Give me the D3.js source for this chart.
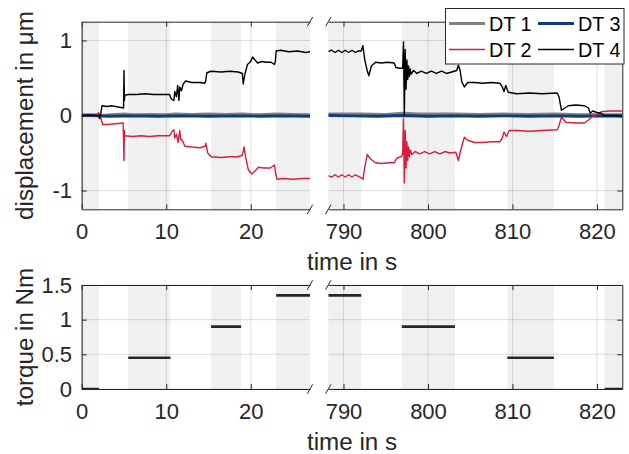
<!DOCTYPE html>
<html>
<head>
<meta charset="utf-8">
<script src="https://d3js.org/d3.v7.min.js"></script>
<style>
  body { margin: 0; background: #fff; }
  svg { display: block; font-family: "Liberation Sans", Arial, sans-serif; }
  .tick text { font-size: 22px; fill: #262626; font-family: "Liberation Sans", Arial, sans-serif; }
  .domain, .tick line { stroke: #262626; }
  .label { font-size: 24.2px; fill: #262626; }
  .legend text { font-size: 19.8px; fill: #000; }
</style>
</head>
<body>
<svg width="629" height="454"></svg>
<script>
// ---- data (time in s, value) ----
var xTicksLeft = [0, 10, 20];
var xTicksRight = [790, 800, 810, 820];
var yTicksDisp = [-1, 0, 1];
var yTicksTorque = [0, 0.5, 1, 1.5];

// grey bands (start, end)
var shadeLeft = [[0, 2.05], [5.5, 10.5], [15.3, 18.85], [23, 27]];
var shadeRight = [[788.2, 792.1], [796.9, 803.2], [809.4, 814.9], [820.9, 823]];

// torque steps (start, end, value)
var torqueLeft = [[0, 2.05, 0], [5.5, 10.5, 0.45], [15.3, 18.85, 0.9], [23, 27, 1.35]];
var torqueRight = [[788.2, 792.1, 1.35], [796.9, 803.2, 0.9], [809.4, 814.9, 0.45], [820.9, 823, 0]];

var dt1Left = [[0,0.01],[2,0.01],[2.2,0],[4,0.015],[5,0.02],[6,0.01],[8,0.015],[10,0.01],[11,0.02],
  [13,0.015],[15,0.02],[17,0.015],[19,0.02],[21,0.01],[23,0.02],[25,0.015],[27,0.01]];
var dt3Left = [[0,0],[2,-0.005],[3,-0.01],[6,-0.005],[9,-0.01],[12,-0.005],[15,-0.01],[18,-0.005],
  [21,-0.01],[24,-0.005],[27,-0.01]];
var dt2Left = [[0,0],[1.8,0],[2,0.04],[2.2,-0.02],[2.5,-0.12],[3,-0.12],[4,-0.11],[4.9,-0.1],[5,-0.6],
  [5.05,-0.2],[5.1,-0.27],[6,-0.28],[7,-0.27],[8,-0.28],[9,-0.27],[10.4,-0.27],[10.7,-0.21],[10.9,-0.19],
  [11,-0.3],[11.2,-0.25],[11.4,-0.36],[11.6,-0.2],[11.7,-0.32],[11.9,-0.33],[12.2,-0.41],[13,-0.42],
  [14,-0.43],[14.6,-0.41],[14.7,-0.37],[14.9,-0.5],[15.3,-0.55],[16.5,-0.56],[17.5,-0.55],[18.5,-0.55],
  [19,-0.53],[19.2,-0.42],[19.4,-0.56],[19.7,-0.72],[20.1,-0.78],[20.5,-0.74],[20.9,-0.69],[21.5,-0.7],
  [22.3,-0.7],[22.8,-0.66],[22.95,-0.78],[23.1,-0.85],[23.8,-0.84],[25,-0.85],[26,-0.84],[27,-0.84]];
var dt4Left = [[0,0],[1,0.005],[2,0],[2.1,-0.04],[2.25,0.02],[2.4,0.13],[3,0.12],[3.5,0.13],[4,0.12],
  [4.5,0.11],[4.95,0.1],[5,0.6],[5.05,0.2],[5.1,0.27],[5.5,0.28],[6.5,0.28],[7.5,0.29],[8.5,0.28],
  [9.5,0.28],[10.4,0.28],[10.6,0.22],[10.9,0.2],[11,0.32],[11.2,0.25],[11.35,0.4],[11.5,0.2],[11.6,0.38],
  [11.8,0.33],[12,0.42],[12.3,0.46],[13,0.44],[14,0.44],[14.5,0.43],[14.65,0.45],[14.8,0.57],[15.3,0.59],
  [16.5,0.58],[17.5,0.59],[18.5,0.58],[19,0.56],[19.1,0.42],[19.3,0.55],[19.6,0.68],[20,0.72],[20.2,0.78],
  [20.5,0.74],[20.8,0.7],[21.3,0.72],[21.8,0.71],[22.4,0.71],[22.8,0.68],[22.9,0.72],[23,0.86],[23.5,0.87],
  [24.5,0.85],[25.5,0.86],[26.5,0.84],[27,0.85]];

var dt1Right = [[788.2,0.02],[792,0.02],[795,0.015],[797,0.03],[799,0.02],[803,0.02],[806,0.015],
  [809,0.02],[812,0.015],[815,0.02],[818,0.01],[821,0.01],[823,0.01]];
var dt3Right = [[788.2,0],[791,-0.005],[794,-0.01],[797,0],[800,-0.01],[803,-0.005],[806,-0.01],
  [809,-0.005],[812,-0.01],[815,-0.005],[818,-0.01],[821,-0.005],[823,-0.01]];
var dt2Right = [[788.2,-0.8],[788.6,-0.82],[789,-0.79],[789.4,-0.82],[789.8,-0.79],[790.2,-0.82],
  [790.6,-0.79],[791,-0.82],[791.4,-0.79],[791.8,-0.81],[792.1,-0.83],[792.3,-0.85],[792.5,-0.7],
  [792.8,-0.52],[793.2,-0.58],[793.8,-0.63],[794.5,-0.64],[795.3,-0.63],[796,-0.63],[796.3,-0.57],
  [796.8,-0.55],[797,-0.52],[797.1,-0.04],[797.2,-0.9],[797.3,-0.2],[797.4,-0.7],[797.5,-0.35],
  [797.6,-0.6],[797.7,-0.42],[797.8,-0.55],[797.9,-0.46],[798.1,-0.52],[798.5,-0.48],[799,-0.51],
  [799.6,-0.48],[800.2,-0.51],[800.8,-0.48],[801.4,-0.51],[802,-0.48],[802.6,-0.5],[803.3,-0.49],
  [803.6,-0.6],[803.9,-0.45],[804.3,-0.29],[804.7,-0.33],[805.5,-0.36],[806.5,-0.36],[807.5,-0.35],
  [808.5,-0.35],[808.8,-0.3],[809,-0.22],[809.3,-0.28],[809.6,-0.2],[810.5,-0.2],[812,-0.21],
  [813.5,-0.2],[815.3,-0.19],[815.5,-0.14],[815.8,-0.02],[816.3,-0.09],[817.5,-0.1],[818.5,-0.1],
  [819,-0.06],[819.5,-0.01],[820,0.01],[820.5,0.05],[821.5,0.06],[823,0.06]];
var dt4Right = [[788.2,0.85],[788.6,0.87],[789,0.84],[789.4,0.87],[789.8,0.84],[790.2,0.87],[790.6,0.84],
  [791,0.87],[791.4,0.84],[791.8,0.86],[792.1,0.86],[792.3,0.93],[792.5,0.75],[792.8,0.6],[793,0.53],
  [793.3,0.66],[793.8,0.71],[794.5,0.7],[795.2,0.71],[796,0.7],[796.2,0.64],[796.6,0.63],[797,0.63],
  [797.1,0.98],[797.2,0],[797.3,0.88],[797.4,0.35],[797.5,0.74],[797.6,0.48],[797.7,0.66],[797.8,0.52],
  [797.9,0.62],[798,0.55],[798.3,0.6],[798.7,0.56],[799.2,0.59],[799.8,0.56],[800.4,0.59],[801,0.56],
  [801.6,0.59],[802.2,0.56],[802.8,0.58],[803.4,0.6],[803.6,0.67],[803.8,0.6],[804,0.45],[804.3,0.38],
  [804.7,0.44],[805.5,0.44],[806.5,0.43],[807.5,0.44],[808.5,0.43],[808.8,0.38],[809,0.32],[809.2,0.4],
  [809.5,0.31],[810.5,0.29],[812,0.3],[813.5,0.29],[815.3,0.3],[815.5,0.25],[815.8,0.07],[816.2,0.1],
  [816.6,0.13],[817.5,0.14],[818.5,0.13],[819,0.1],[819.2,0.03],[819.5,0.06],[820,0.04],[820.5,0.03],
  [820.8,0],[821.5,0],[823,0]];

var seriesNames = ["DT 1", "DT 2", "DT 3", "DT 4"];
var seriesColors = ["#808080", "#d81e3c", "#0f3b80", "#000000"];
var seriesWidths = [2.8, 1.4, 2.8, 1.4];

// ---- scales ----
var svg = d3.select("svg");
var xLeft = d3.scaleLinear().domain([0, 27]).range([81.7, 310]);
var xRight = d3.scaleLinear().domain([788.2, 823]).range([328.3, 622.3]);
var yDisp = d3.scaleLinear().domain([-1.25, 1.25]).range([209.3, 21.7]);
var yTorque = d3.scaleLinear().domain([0, 1.5]).range([389, 285]);

var clipN = 0;
function panel(x, y, shade, xTicks, yTicks, side) {
  var g = svg.append("g");
  var id = "clip" + (clipN++);
  svg.append("clipPath").attr("id", id).append("rect")
    .attr("x", x.range()[0]).attr("y", y.range()[1])
    .attr("width", x.range()[1] - x.range()[0])
    .attr("height", y.range()[0] - y.range()[1]);

  g.selectAll(".shade").data(shade).enter().append("rect")
    .attr("x", function(d) { return x(d[0]); })
    .attr("y", y.range()[1])
    .attr("width", function(d) { return x(d[1]) - x(d[0]); })
    .attr("height", y.range()[0] - y.range()[1])
    .attr("fill", "#f0f0f0");

  g.selectAll(".vgrid").data(xTicks).enter().append("line")
    .attr("x1", x).attr("x2", x)
    .attr("y1", y.range()[0]).attr("y2", y.range()[1])
    .attr("stroke", "#262626").attr("stroke-opacity", 0.15);
  g.selectAll(".hgrid").data(yTicks).enter().append("line")
    .attr("x1", x.range()[0]).attr("x2", x.range()[1])
    .attr("y1", y).attr("y2", y)
    .attr("stroke", "#262626").attr("stroke-opacity", 0.15);

  var data = g.append("g").attr("clip-path", "url(#" + id + ")");

  g.append("g").attr("transform", "translate(0," + y.range()[0] + ")")
    .call(d3.axisBottom(x).tickValues(xTicks).tickSize(-5).tickSizeOuter(0)
      .tickPadding(14).tickFormat(function(d) { return d; }));
  g.append("g").attr("transform", "translate(0," + y.range()[1] + ")")
    .call(d3.axisTop(x).tickValues(xTicks).tickSize(-5).tickSizeOuter(0).tickFormat(""));
  if (side === "left") {
    g.append("g").attr("transform", "translate(" + x.range()[0] + ",0)")
      .call(d3.axisLeft(y).tickValues(yTicks).tickSize(-5).tickSizeOuter(0)
        .tickPadding(9.7).tickFormat(function(d) { return d; }));
  } else {
    g.append("g").attr("transform", "translate(" + x.range()[1] + ",0)")
      .call(d3.axisRight(y).tickValues(yTicks).tickSize(-5).tickSizeOuter(0).tickFormat(""));
  }
  g.selectAll(".domain").attr("stroke-width", 1);
  return data;
}

function drawSeries(layer, x, y, sets) {
  var line = d3.line().x(function(d) { return x(d[0]); }).y(function(d) { return y(d[1]); });
  // draw order: DT 1, DT 3, DT 2, DT 4
  [0, 2, 1, 3].forEach(function(i) {
    layer.append("path").datum(sets[i])
      .attr("d", line).attr("fill", "none")
      .attr("stroke", seriesColors[i]).attr("stroke-width", seriesWidths[i])
      .attr("stroke-linejoin", "round");
  });
}

function drawTorque(layer, x, y, steps) {
  layer.selectAll(".tq").data(steps).enter().append("line")
    .attr("x1", function(d) { return x(d[0]); })
    .attr("x2", function(d) { return x(d[1]); })
    .attr("y1", function(d) { return y(d[2]); })
    .attr("y2", function(d) { return y(d[2]); })
    .attr("stroke", "#262626").attr("stroke-width", 2.6);
}

var tl = panel(xLeft, yDisp, shadeLeft, xTicksLeft, yTicksDisp, "left");
drawSeries(tl, xLeft, yDisp, [dt1Left, dt2Left, dt3Left, dt4Left]);
var tr = panel(xRight, yDisp, shadeRight, xTicksRight, yTicksDisp, "right");
drawSeries(tr, xRight, yDisp, [dt1Right, dt2Right, dt3Right, dt4Right]);
var bl = panel(xLeft, yTorque, shadeLeft, xTicksLeft, yTicksTorque, "left");
drawTorque(bl, xLeft, yTorque, torqueLeft);
var br = panel(xRight, yTorque, shadeRight, xTicksRight, yTicksTorque, "right");
drawTorque(br, xRight, yTorque, torqueRight);

// axis break marks
[yDisp, yTorque].forEach(function(y) {
  [y.range()[0], y.range()[1]].forEach(function(cy) {
    [xLeft.range()[1], xRight.range()[0]].forEach(function(cx) {
      svg.append("line")
        .attr("x1", cx - 2.7).attr("y1", cy + 4.7)
        .attr("x2", cx + 2.7).attr("y2", cy - 4.7)
        .attr("stroke", "#262626").attr("stroke-width", 1);
    });
  });
});

// labels
svg.append("text").attr("class", "label").attr("text-anchor", "middle")
  .attr("transform", "translate(33,115.5) rotate(-90)").text("displacement in μm");
svg.append("text").attr("class", "label").attr("text-anchor", "middle")
  .attr("transform", "translate(33,337) rotate(-90)").text("torque in Nm");
svg.append("text").attr("class", "label").attr("text-anchor", "middle")
  .attr("x", 352).attr("y", 270).text("time in s");
svg.append("text").attr("class", "label").attr("text-anchor", "middle")
  .attr("x", 352).attr("y", 450).text("time in s");

// legend
var lg = svg.append("g").attr("class", "legend");
lg.append("rect").attr("x", 445.5).attr("y", 8.5).attr("width", 178.5).attr("height", 55.5)
  .attr("fill", "#fff").attr("stroke", "#262626").attr("stroke-width", 1);
var legX = [449, 538], legY = [23.5, 49.5];
seriesNames.forEach(function(name, i) {
  var col = Math.floor(i / 2), row = i % 2;
  lg.append("line")
    .attr("x1", legX[col]).attr("x2", legX[col] + 36)
    .attr("y1", legY[row]).attr("y2", legY[row])
    .attr("stroke", seriesColors[i]).attr("stroke-width", seriesWidths[i]);
  lg.append("text").attr("x", legX[col] + 40).attr("y", legY[row] + 7.5).text(name);
});
</script>
</body>
</html>
